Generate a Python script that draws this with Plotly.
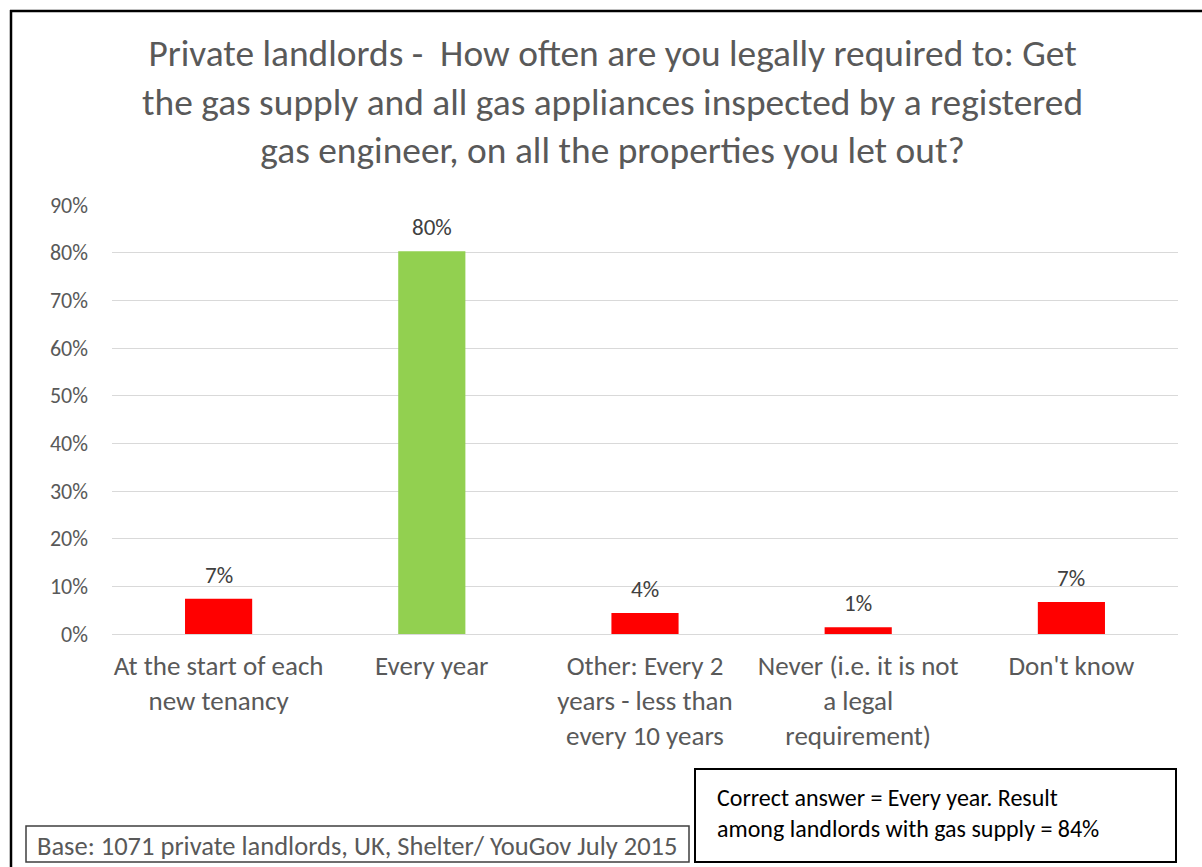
import plotly.graph_objects as go

# Survey answers and share of landlords choosing each one (%)
categories = [
    "At the start of each<br>new tenancy",
    "Every year",
    "Other: Every 2<br>years - less than<br>every 10 years",
    "Never (i.e. it is not<br>a legal<br>requirement)",
    "Don't know",
]
shares = [7.4, 80.3, 4.4, 1.4, 6.7]
bar_colors = ["#FF0000", "#92D050", "#FF0000", "#FF0000", "#FF0000"]
y_ticks = [0, 10, 20, 30, 40, 50, 60, 70, 80, 90]

title_text = ("Private landlords -  How often are you legally required to: Get<br>"
              "the gas supply and all gas appliances inspected by a registered<br>"
              "gas engineer, on all the properties you let out?")
base_note = "Base: 1071 private landlords, UK, Shelter/ YouGov July 2015"
answer_note = "Correct answer = Every year. Result<br>among landlords with gas supply = 84%"

W, H = 1202, 867
L, R, T, B = 112, 1178, 205, 634
FONT = "Carlito, Calibri, 'Liberation Sans Narrow', 'Open Sans', sans-serif"
GREY = "#595959"


def px(x):
    return (x - L) / (R - L)


def py(y):
    return (B - y) / (B - T)


fig = go.Figure(
    go.Bar(
        x=categories,
        y=shares,
        marker=dict(color=bar_colors, line=dict(width=0)),
        width=0.315,
        cliponaxis=False,
    )
)

# Value labels above each bar
for cat, val in zip(categories, shares):
    fig.add_annotation(x=cat, y=val, xref="x", yref="y",
                       text=f"{val:.0f}%", showarrow=False,
                       yanchor="middle", yshift=24,
                       font=dict(size=23, color="#404040", family=FONT))

fig.update_layout(
    width=W,
    height=H,
    margin=dict(l=L, r=W - R, t=T, b=H - B),
    paper_bgcolor="white",
    plot_bgcolor="white",
    showlegend=False,
    font=dict(family=FONT, color=GREY),
    xaxis=dict(
        showgrid=False,
        showline=False,
        zeroline=False,
        ticks="",
        ticklabelstandoff=13,
        tickfont=dict(size=27, color=GREY, family=FONT),
    ),
    yaxis=dict(
        range=[0, 90],
        tickvals=y_ticks,
        ticktext=[f"{v}%" for v in y_ticks],
        showgrid=True,
        gridcolor="#D9D9D9",
        gridwidth=1.3,
        zeroline=True,
        zerolinecolor="#D9D9D9",
        zerolinewidth=1.3,
        showline=False,
        ticks="",
        ticklabelstandoff=23,
        tickfont=dict(size=22, color=GREY, family=FONT),
    ),
    bargap=0.685,
)

# Chart title
fig.add_annotation(text=title_text, xref="paper", yref="paper",
                   x=px(612), y=py(101), xanchor="center", yanchor="middle",
                   showarrow=False, align="center",
                   font=dict(size=37.4, color=GREY, family=FONT))

# Outer frame (top and left edges)
fig.add_shape(type="line", xref="paper", yref="paper",
              x0=px(10), x1=px(1202), y0=py(11), y1=py(11),
              line=dict(color="black", width=2.5))
fig.add_shape(type="line", xref="paper", yref="paper",
              x0=px(11), x1=px(11), y0=py(10), y1=py(867),
              line=dict(color="black", width=2.5))

# Base note box
fig.add_shape(type="rect", xref="paper", yref="paper",
              x0=px(26), x1=px(689), y0=py(826), y1=py(862),
              line=dict(color="#3F3F3F", width=1.5), fillcolor="white")
fig.add_annotation(text=base_note, xref="paper", yref="paper",
                   x=px(35), y=py(846), xanchor="left", yanchor="middle",
                   showarrow=False, align="left",
                   font=dict(size=26.5, color=GREY, family=FONT))

# Correct answer box
fig.add_shape(type="rect", xref="paper", yref="paper",
              x0=px(695), x1=px(1176), y0=py(769), y1=py(862),
              line=dict(color="black", width=2), fillcolor="white")
fig.add_annotation(text=answer_note, xref="paper", yref="paper",
                   x=px(715), y=py(813), xanchor="left", yanchor="middle",
                   showarrow=False, align="left",
                   font=dict(size=24, color="black", family=FONT))

fig.write_html("out.html")
